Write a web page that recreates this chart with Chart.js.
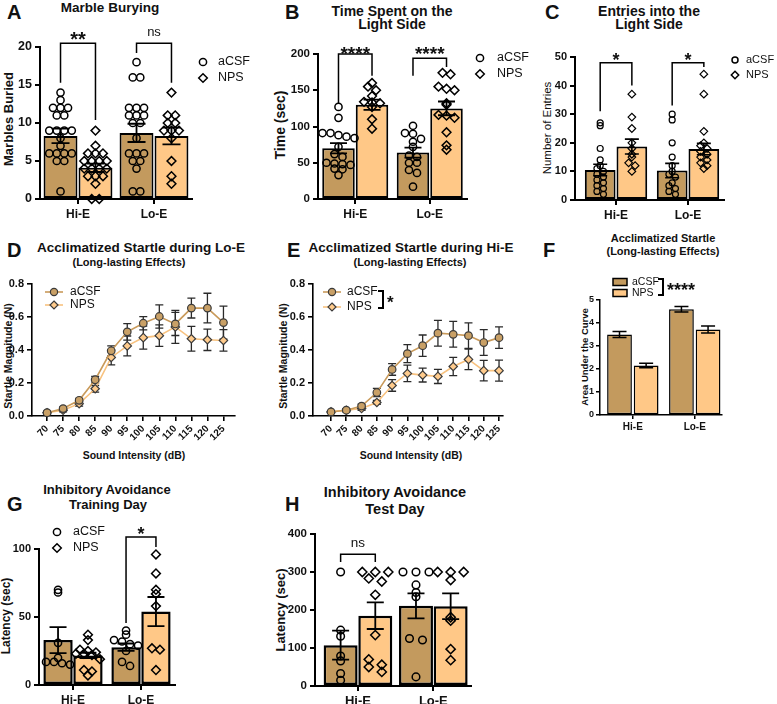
<!DOCTYPE html>
<html>
<head>
<meta charset="utf-8">
<title>NPS behaviour panels</title>
<script src="https://cdn.jsdelivr.net/npm/chart.js@4.4.1/dist/chart.umd.min.js"></script>
<style>
  body { margin: 0; background: #fff; }
  #fig { position: relative; width: 777px; height: 704px; overflow: hidden; background: #fff;
         font-family: "Liberation Sans", Arial, Helvetica, sans-serif; color: #111; }
  #fig canvas { position: absolute; }
  .lbl { position: absolute; white-space: nowrap; line-height: 1; font-weight: bold; transform: translate(-50%, -50%); }
  .let { position: absolute; line-height: 1; font-weight: bold; font-size: 20px; transform: translateY(-50%); }
  .rot { transform: translate(-50%, -50%) rotate(-90deg); }
</style>
</head>
<body>
<div id="fig">
  <!-- panel letters -->
  <div class="let" style="left:7px;top:12px">A</div>
  <div class="let" style="left:285px;top:12px">B</div>
  <div class="let" style="left:545px;top:12px">C</div>
  <div class="let" style="left:7px;top:250px">D</div>
  <div class="let" style="left:287px;top:250px">E</div>
  <div class="let" style="left:543px;top:250px">F</div>
  <div class="let" style="left:7px;top:504px">G</div>
  <div class="let" style="left:285px;top:504px">H</div>

  <!-- titles -->
  <div class="lbl" style="left:110px;top:8px;font-size:13.5px">Marble Burying</div>
  <div class="lbl" style="left:392px;top:10.5px;font-size:14px">Time Spent on the</div>
  <div class="lbl" style="left:392px;top:23.5px;font-size:14px">Light Side</div>
  <div class="lbl" style="left:649px;top:10.5px;font-size:14px">Entries into the</div>
  <div class="lbl" style="left:649px;top:23.5px;font-size:14px">Light Side</div>
  <div class="lbl" style="left:141px;top:248px;font-size:13.5px">Acclimatized Startle during Lo-E</div>
  <div class="lbl" style="left:129px;top:262px;font-size:11px">(Long-lasting Effects)</div>
  <div class="lbl" style="left:411px;top:248px;font-size:13.5px">Acclimatized Startle during Hi-E</div>
  <div class="lbl" style="left:410px;top:262px;font-size:11px">(Long-lasting Effects)</div>
  <div class="lbl" style="left:663px;top:238px;font-size:11px">Acclimatized Startle</div>
  <div class="lbl" style="left:663px;top:251px;font-size:11px">(Long-lasting Effects)</div>
  <div class="lbl" style="left:107px;top:489px;font-size:13px">Inhibitory Avoidance</div>
  <div class="lbl" style="left:108px;top:504px;font-size:13px">Training Day</div>
  <div class="lbl" style="left:395px;top:492px;font-size:14.5px">Inhibitory Avoidance</div>
  <div class="lbl" style="left:395px;top:509px;font-size:14.5px">Test Day</div>

  <!-- axis titles -->
  <div class="lbl rot" style="left:8px;top:119px;font-size:13px">Marbles Buried</div>
  <div class="lbl rot" style="left:280px;top:125px;font-size:14px">Time (sec)</div>
  <div class="lbl rot" style="left:548px;top:128px;font-size:11.5px;font-weight:normal">Number of Entries</div>
  <div class="lbl rot" style="left:8px;top:356px;font-size:10.5px">Startle Magnitude (N)</div>
  <div class="lbl rot" style="left:283px;top:356px;font-size:10.5px">Startle Magnitude (N)</div>
  <div class="lbl rot" style="left:585px;top:357px;font-size:9.5px">Area Under the Curve</div>
  <div class="lbl rot" style="left:6px;top:616px;font-size:12px">Latency (sec)</div>
  <div class="lbl rot" style="left:280px;top:610px;font-size:13px">Latency (sec)</div>
  <div class="lbl" style="left:134px;top:455px;font-size:10.5px">Sound Intensity (dB)</div>
  <div class="lbl" style="left:411px;top:455px;font-size:10.5px">Sound Intensity (dB)</div>
</div>

<script>
const FONT = '"Liberation Sans", Arial, Helvetica, sans-serif';
Chart.defaults.font.family = FONT;
Chart.defaults.color = '#111';

const groups = ['Hi-E', 'Lo-E'];
const treatments = ['aCSF', 'NPS'];
const intensities = [70, 75, 80, 85, 90, 95, 100, 105, 110, 115, 120, 125];

// A - marble burying (bar order: Hi-E aCSF, Hi-E NPS, Lo-E aCSF, Lo-E NPS)
const marbleMean = [8.3, 4.1, 8.7, 8.3];
const marbleSem = [0.95, 0.55, 1.2, 1.1];
const marbleHiACSF = [14, 13, 12, 12, 12, 11, 11, 9, 9, 9, 9, 8, 7, 6, 6, 6, 6, 5, 5, 1];
const marbleHiNPS = [9, 7, 6, 6, 6, 5, 5, 5, 5, 4, 4, 4, 4, 3, 3, 3, 2, 0, 0];
const marbleLoACSF = [18, 16, 16, 12, 12, 12, 11, 11, 11, 10, 10, 8, 6, 6, 6, 5, 5, 4, 1, 1];
const marbleLoNPS = [14, 11, 11, 10, 10, 9, 9, 9, 8, 5, 3, 2];

// B - time spent on the light side (sec)
const lightTimeMean = [70, 130, 64, 125];
const lightTimeSem = [7, 7, 7, 9.5];
const lightTimeHiACSF = [127, 112, 91, 91, 88, 86, 84, 72, 62, 58, 50, 49, 48, 47, 42, 41, 33];
const lightTimeHiNPS = [160, 155, 150, 142, 134, 133, 132, 127, 110, 97];
const lightTimeLoACSF = [101, 91, 90, 83, 79, 72, 60, 58, 50, 50, 40, 36, 17];
const lightTimeLoNPS = [174, 172, 155, 152, 150, 132, 130, 116, 115, 112, 92, 74, 68];

// C - entries into the light side
const entriesMean = [10.5, 18.7, 10.3, 17.8];
const entriesSem = [2.0, 2.6, 2.5, 2.0];
const entriesHiACSF = [27, 26, 18, 14, 12, 11, 10, 9, 8, 7, 6, 5, 4, 3, 2];
const entriesHiNPS = [37, 29, 25, 20, 18, 16, 15, 13, 12, 10];
const entriesLoACSF = [30, 28, 20, 15, 12, 10, 9, 8, 6, 5, 4, 3, 2];
const entriesLoNPS = [44, 37, 24, 20, 19, 18, 17, 16, 15, 14, 13, 12, 11];

// D - startle during Lo-E (N)
const startleLoACSF = [0.02, 0.045, 0.095, 0.22, 0.395, 0.51, 0.562, 0.603, 0.558, 0.654, 0.654, 0.566];
const startleLoACSFSem = [0.01, 0.01, 0.012, 0.02, 0.03, 0.05, 0.04, 0.07, 0.07, 0.06, 0.09, 0.1];
const startleLoNPS = [0.02, 0.035, 0.075, 0.165, 0.355, 0.425, 0.475, 0.487, 0.54, 0.468, 0.462, 0.458];
const startleLoNPSSem = [0.008, 0.01, 0.015, 0.02, 0.045, 0.06, 0.07, 0.065, 0.1, 0.075, 0.065, 0.065];

// E - startle during Hi-E (N)
const startleHiACSF = [0.025, 0.035, 0.06, 0.142, 0.282, 0.378, 0.426, 0.502, 0.495, 0.487, 0.445, 0.475];
const startleHiACSFSem = [0.006, 0.01, 0.012, 0.025, 0.035, 0.055, 0.065, 0.078, 0.078, 0.077, 0.078, 0.065];
const startleHiNPS = [0.025, 0.035, 0.045, 0.082, 0.185, 0.258, 0.248, 0.24, 0.3, 0.343, 0.275, 0.275];
const startleHiNPSSem = [0.006, 0.006, 0.01, 0.012, 0.035, 0.05, 0.042, 0.043, 0.055, 0.062, 0.062, 0.064];

// F - area under the curve
const aucMean = [3.5, 2.15, 4.6, 3.72];
const aucSem = [0.13, 0.1, 0.12, 0.15];

// G - inhibitory avoidance, training day (sec)
const trainMean = [33, 21.7, 27.8, 54];
const trainSem = [9.5, 2, 2.7, 10.7];
const trainHiACSF = [70, 68, 31, 20, 17, 17, 16, 15];
const trainHiNPS = [37, 33, 26, 25, 24, 23, 23, 22, 19, 11, 10, 7];
const trainLoACSF = [40, 37, 33, 32, 30, 29, 25, 17, 14];
const trainLoNPS = [96, 82, 70, 67, 58, 27, 26, 11];

// H - inhibitory avoidance, test day (sec)
const testMean = [107.5, 185, 211, 210];
const testSem = [38, 35, 33, 34];
const testHiACSF = [300, 147, 131, 79, 66, 33, 15];
const testHiNPS = [300, 300, 300, 283, 275, 240, 134, 70, 56, 50, 37];
const testLoACSF = [300, 300, 300, 266, 246, 235, 125, 121, 24];
const testLoNPS = [300, 300, 300, 279, 181, 172, 97, 68];

const FILL = ['#C39A5E', '#FFC887'];
const LINE = ['#C99A5A', '#F8C27F'];
const MARK = ['#C9A066', '#FFCB8C'];
const fig = document.getElementById('fig');

// spread points of one bar side by side when their values are close
function spread(values, center, stepUnits, binUnits) {
  const count = {}, seen = {};
  const keys = values.map(v => Math.round(v / binUnits));
  keys.forEach(k => { count[k] = (count[k] || 0) + 1; });
  return values.map((v, i) => {
    const k = keys[i];
    seen[k] = (seen[k] || 0) + 1;
    return { x: center + (seen[k] - 1 - (count[k] - 1) / 2) * stepUnits, y: v };
  });
}

function marker(ctx, diamond, x, y, r, fill, stroke, bw) {
  ctx.beginPath();
  if (!diamond) ctx.arc(x, y, r, 0, Math.PI * 2);
  else { ctx.moveTo(x, y - r); ctx.lineTo(x + r, y); ctx.lineTo(x, y + r); ctx.lineTo(x - r, y); ctx.closePath(); }
  if (fill) { ctx.fillStyle = fill; ctx.fill(); }
  ctx.lineWidth = bw; ctx.strokeStyle = stroke; ctx.stroke();
}

// mean +/- sem whiskers
function drawErrors(chart, behind) {
  const ctx = chart.ctx, y = chart.scales.y;
  chart.data.datasets.forEach((ds, di) => {
    if (!ds.errors || !!ds.errorsBehind !== behind) return;
    const meta = chart.getDatasetMeta(di);
    const half = ds.capWidth / 2;
    ctx.save();
    ctx.strokeStyle = ds.errorColor || '#000';
    ctx.lineWidth = ds.errorWidth || 1.5;
    meta.data.forEach((el, i) => {
      const v = ds.data[i].y;
      const top = y.getPixelForValue(v + ds.errors[i]);
      const bot = y.getPixelForValue(v - ds.errors[i]);
      ctx.beginPath();
      ctx.moveTo(el.x, top); ctx.lineTo(el.x, bot);
      ctx.moveTo(el.x - half, top); ctx.lineTo(el.x + half, top);
      ctx.moveTo(el.x - half, bot); ctx.lineTo(el.x + half, bot);
      ctx.stroke();
    });
    ctx.restore();
  });
}
const errorBars = {
  id: 'errorBars',
  beforeDatasetsDraw(chart) { drawErrors(chart, true); },
  afterDatasetsDraw(chart) { drawErrors(chart, false); }
};

function starText(ctx, text, x, cy, size, bold, align) {
  ctx.font = `${bold ? 'bold ' : ''}${size}px ${FONT}`;
  ctx.textAlign = align || 'center';
  ctx.textBaseline = 'alphabetic';
  ctx.fillText(text, x, cy + (text.includes('*') ? 0.585 : 0.26) * size);
}

function bracketPlugin(list, off) {
  return {
    id: 'brackets',
    afterDatasetsDraw(chart) {
      const { ctx, scales: { x, y } } = chart;
      ctx.save();
      ctx.strokeStyle = '#000'; ctx.fillStyle = '#111'; ctx.lineWidth = 1.5;
      list.forEach(b => {
        const x1 = x.getPixelForValue(b.g + 1 - off), x2 = x.getPixelForValue(b.g + 1 + off);
        const top = y.getPixelForValue(b.top);
        ctx.beginPath();
        ctx.moveTo(x1, y.getPixelForValue(b.yl)); ctx.lineTo(x1, top);
        ctx.lineTo(x2, top); ctx.lineTo(x2, y.getPixelForValue(b.yr));
        ctx.stroke();
        starText(ctx, b.text, (x1 + x2) / 2, top - b.lift, b.size, b.bold);
      });
      ctx.restore();
    }
  };
}

function legendPlugin(box, lg) {
  return {
    id: 'panelLegend',
    afterDraw(chart) {
      const ctx = chart.ctx;
      ctx.save();
      treatments.forEach((name, i) => {
        const x = lg.x - box.x, y = lg.ys[i] - box.y;
        if (lg.kind === 'box') {
          ctx.fillStyle = FILL[i]; ctx.fillRect(x - 7, y - 3.5, 14, 7);
          ctx.strokeStyle = '#000'; ctx.lineWidth = 1.5; ctx.strokeRect(x - 7, y - 3.5, 14, 7);
        } else if (lg.kind === 'line') {
          ctx.strokeStyle = LINE[i]; ctx.lineWidth = 1.6;
          ctx.beginPath(); ctx.moveTo(x - 9, y); ctx.lineTo(x + 9, y); ctx.stroke();
          marker(ctx, i === 1, x, y, i ? 4 : 3.6, MARK[i], '#3b3b3b', 1.2);
        } else {
          marker(ctx, i === 1, x, y, i ? lg.r + 0.7 : lg.r, null, '#000', 1.5);
        }
        ctx.fillStyle = '#111';
        ctx.font = `${lg.font}px ${FONT}`;
        ctx.textAlign = 'left'; ctx.textBaseline = 'middle';
        ctx.fillText(name, lg.tx - box.x, y);
      });
      if (lg.mark) {
        const m = lg.mark;
        ctx.strokeStyle = '#000'; ctx.lineWidth = 2;
        ctx.beginPath();
        ctx.moveTo(m.x - 5 - box.x, m.y1 - box.y); ctx.lineTo(m.x - box.x, m.y1 - box.y);
        ctx.lineTo(m.x - box.x, m.y2 - box.y); ctx.lineTo(m.x - 5 - box.x, m.y2 - box.y);
        ctx.stroke();
        ctx.fillStyle = '#111';
        starText(ctx, m.text, m.tx - box.x, m.ty - box.y, m.size, true, 'left');
      }
      ctx.restore();
    }
  };
}

function axisStyle(w, len) {
  return {
    grid: { display: true, drawOnChartArea: false, drawTicks: true, tickLength: len, color: '#000', lineWidth: w, offset: false },
    border: { display: true, color: '#000', width: w }
  };
}

function makeChart(p, type, datasets, scales) {
  const box = {
    x: p.plot.l - p.yW, y: p.plot.t - p.mt,
    w: p.plot.r - p.plot.l + p.yW + p.mr, h: p.plot.b - p.plot.t + p.mt + p.xH
  };
  const c = document.createElement('canvas');
  c.width = box.w; c.height = box.h;
  c.style.left = box.x + 'px'; c.style.top = box.y + 'px';
  c.style.width = box.w + 'px'; c.style.height = box.h + 'px';
  fig.appendChild(c);
  scales.x.afterFit = s => { s.height = p.xH; };
  scales.y.afterFit = s => { s.width = p.yW; };
  const plugins = [errorBars];
  if (p.brackets) plugins.push(bracketPlugin(p.brackets, p.off));
  if (p.legend) plugins.push(legendPlugin(box, p.legend));
  new Chart(c, {
    type,
    data: { datasets },
    options: {
      responsive: false, animation: false, devicePixelRatio: 1,
      layout: { padding: { left: 0, top: p.mt, right: p.mr, bottom: 0 }, autoPadding: false },
      plugins: { legend: { display: false }, tooltip: { enabled: false } },
      scales
    },
    plugins
  });
}

function barPanel(p) {
  const pxX = (p.plot.r - p.plot.l) / (p.xMax - p.xMin);
  const pxY = (p.plot.b - p.plot.t) / (p.yMax - p.yMin);
  const xs = [0, 1, 2, 3].map(i => 1 + Math.floor(i / 2) + (i % 2 ? p.off : -p.off));
  const datasets = [{
    type: 'bar', order: 2, clip: false,
    data: xs.map((x, i) => ({ x, y: p.mean[i] })),
    backgroundColor: xs.map((x, i) => FILL[i % 2]),
    borderColor: '#000', borderWidth: p.barBorder, borderSkipped: false,
    categoryPercentage: 1, barPercentage: p.barPct,
    errors: p.sem, capWidth: p.cap, errorWidth: p.errW
  }];
  (p.points || []).forEach((vals, i) => datasets.push({
    type: 'scatter', order: 1, clip: false,
    data: spread(vals, xs[i], p.stepPx / pxX, p.binPx / pxY),
    pointStyle: i % 2 ? 'rectRot' : 'circle',
    pointRadius: i % 2 ? p.r + 0.8 : p.r,
    pointBackgroundColor: 'rgba(0,0,0,0)', pointBorderColor: '#000', pointBorderWidth: p.ptW
  }));
  const ax = axisStyle(p.axisW, p.tickLen || 5);
  makeChart(p, 'bar', datasets, {
    x: {
      type: 'linear', min: p.xMin, max: p.xMax, offset: false, bounds: 'data',
      afterBuildTicks: s => { s.ticks = groups.map((g, i) => ({ value: i + 1 })); },
      ticks: { callback: v => groups[v - 1], font: { size: p.xFont, weight: 'bold' }, color: '#111',
               padding: p.tickPad || 3, maxRotation: 0, autoSkip: false },
      ...ax
    },
    y: {
      type: 'linear', min: p.yMin, max: p.yMax,
      ticks: { stepSize: p.yStep, font: { size: p.yFont, weight: 'bold' }, color: '#111', padding: p.tickPad || 3 },
      ...ax
    }
  });
}

function linePanel(p) {
  const ds = (vals, sems, i) => ({
    type: 'line', order: i + 1, clip: false,
    data: intensities.map((x, k) => ({ x, y: vals[k] })),
    borderColor: LINE[i], borderWidth: 1.6, tension: 0,
    pointStyle: i ? 'rectRot' : 'circle', pointRadius: i ? 4.2 : 3.8,
    pointBackgroundColor: MARK[i], pointBorderColor: '#3b3b3b', pointBorderWidth: 1.2,
    errors: sems, capWidth: 8, errorWidth: 1.3, errorColor: '#2a2a2a', errorsBehind: true
  });
  const ax = axisStyle(1.6, 5);
  makeChart(p, 'line', [ds(p.acsf, p.acsfSem, 0), ds(p.nps, p.npsSem, 1)], {
    x: {
      type: 'linear', min: p.xMin, max: p.xMax, bounds: 'data',
      afterBuildTicks: s => { s.ticks = intensities.map(v => ({ value: v })); },
      ticks: { font: { size: 10, weight: 'bold' }, color: '#111', minRotation: 45, maxRotation: 45,
               autoSkip: false, padding: 2 },
      ...ax
    },
    y: {
      type: 'linear', min: 0, max: 0.8,
      ticks: { stepSize: 0.2, callback: v => v.toFixed(1), font: { size: 11, weight: 'bold' }, color: '#111', padding: 3 },
      ...ax
    }
  });
}

// A
barPanel({
  plot: { l: 40, t: 47, r: 192, b: 199 }, yW: 40, xH: 22, mt: 22, mr: 70,
  xMin: 0.5, xMax: 2.5, yMin: 0, yMax: 20, yStep: 5,
  off: 0.23, barPct: 0.97, barBorder: 2, axisW: 2, cap: 18, errW: 1.8,
  mean: marbleMean, sem: marbleSem,
  points: [marbleHiACSF, marbleHiNPS, marbleLoACSF, marbleLoNPS],
  r: 3.6, ptW: 1.5, stepPx: 7.5, binPx: 7, yFont: 12.5, xFont: 12,
  brackets: [
    { g: 0, top: 20.5, yl: 15.3, yr: 10.4, text: '**', size: 20, bold: true, lift: 8.5 },
    { g: 1, top: 20.5, yl: 19.2, yr: 15.3, text: 'ns', size: 13, bold: false, lift: 10.5 }
  ],
  legend: { x: 203, tx: 218, ys: [62, 78], r: 3.6, font: 12.5 }
});

// B
barPanel({
  plot: { l: 318, t: 54, r: 467, b: 199 }, yW: 45, xH: 22, mt: 14, mr: 70,
  xMin: 0.5, xMax: 2.5, yMin: 0, yMax: 200, yStep: 50,
  off: 0.225, barPct: 0.97, barBorder: 2, axisW: 2, cap: 17, errW: 1.8,
  mean: lightTimeMean, sem: lightTimeSem,
  points: [lightTimeHiACSF, lightTimeHiNPS, lightTimeLoACSF, lightTimeLoNPS],
  r: 3.6, ptW: 1.5, stepPx: 8, binPx: 7, yFont: 11.5, xFont: 12,
  brackets: [
    { g: 0, top: 200, yl: 131, yr: 170, text: '****', size: 19, bold: true, lift: 5.5 },
    { g: 1, top: 194, yl: 170, yr: 182, text: '****', size: 19, bold: true, lift: 9.5 }
  ],
  legend: { x: 480, tx: 497, ys: [58, 74], r: 3.6, font: 12.5 }
});

// C
barPanel({
  plot: { l: 575, t: 57, r: 724, b: 200 }, yW: 40, xH: 22, mt: 17, mr: 53,
  xMin: 0.43, xMax: 2.5, yMin: 0, yMax: 50, yStep: 10,
  off: 0.22, barPct: 0.97, barBorder: 2, axisW: 2, cap: 14, errW: 1.6,
  mean: entriesMean, sem: entriesSem,
  points: [entriesHiACSF, entriesHiNPS, entriesLoACSF, entriesLoNPS],
  r: 3, ptW: 1.2, stepPx: 6.5, binPx: 6, yFont: 11, xFont: 12,
  brackets: [
    { g: 0, top: 48, yl: 31, yr: 40, text: '*', size: 18, bold: true, lift: 7 },
    { g: 1, top: 48, yl: 33, yr: 46.5, text: '*', size: 18, bold: true, lift: 7 }
  ],
  legend: { x: 735, tx: 746, ys: [60, 75], r: 3, font: 11 }
});

// D
linePanel({
  plot: { l: 32, t: 284, r: 235, b: 416 }, yW: 32, xH: 30, mt: 10, mr: 10,
  xMin: 65.3, xMax: 128.6,
  acsf: startleLoACSF, acsfSem: startleLoACSFSem, nps: startleLoNPS, npsSem: startleLoNPSSem,
  legend: { kind: 'line', x: 54, tx: 70, ys: [292, 305], font: 12 }
});

// E
linePanel({
  plot: { l: 313, t: 284, r: 503, b: 416 }, yW: 32, xH: 30, mt: 10, mr: 10,
  xMin: 64.1, xMax: 126.3,
  acsf: startleHiACSF, acsfSem: startleHiACSFSem, nps: startleHiNPS, npsSem: startleHiNPSSem,
  legend: { kind: 'line', x: 332, tx: 347, ys: [292, 307], font: 12,
            mark: { x: 383, y1: 291, y2: 308, text: '*', tx: 387, ty: 298, size: 17 } }
});

// F
barPanel({
  plot: { l: 600, t: 300, r: 722, b: 415 }, yW: 22, xH: 20, mt: 28, mr: 20,
  xMin: 0.47, xMax: 2.44, yMin: 0, yMax: 5, yStep: 1,
  off: 0.215, barPct: 0.93, barBorder: 1.5, axisW: 1.5, cap: 14, errW: 1.5,
  mean: aucMean, sem: aucSem, points: null, tickLen: 4, tickPad: 2,
  yFont: 9, xFont: 10,
  legend: { kind: 'box', x: 620, tx: 632, ys: [282, 293], font: 10.5,
            mark: { x: 663, y1: 279, y2: 295, text: '****', tx: 667, ty: 285, size: 18 } }
});

// G
barPanel({
  plot: { l: 39, t: 549, r: 175, b: 685 }, yW: 39, xH: 22, mt: 30, mr: 10,
  xMin: 0.5, xMax: 2.5, yMin: 0, yMax: 100, yStep: 50,
  off: 0.22, barPct: 0.98, barBorder: 2.5, axisW: 2, cap: 17, errW: 1.8,
  mean: trainMean, sem: trainSem,
  points: [trainHiACSF, trainHiNPS, trainLoACSF, trainLoNPS],
  r: 3.6, ptW: 1.5, stepPx: 8, binPx: 7, yFont: 11, xFont: 12,
  brackets: [
    { g: 1, top: 108.8, yl: 45.6, yr: 101.5, text: '*', size: 18, bold: true, lift: 8 }
  ],
  legend: { x: 57, tx: 73, ys: [532, 548], r: 3.6, font: 12.5 }
});

// H
barPanel({
  plot: { l: 315, t: 534, r: 471, b: 686 }, yW: 40, xH: 24, mt: 15, mr: 10,
  xMin: 0.43, xMax: 2.5, yMin: 0, yMax: 400, yStep: 100,
  off: 0.23, barPct: 0.98, barBorder: 2.5, axisW: 2, cap: 17, errW: 1.8,
  mean: testMean, sem: testSem,
  points: [testHiACSF, testHiNPS, testLoACSF, testLoNPS],
  r: 3.8, ptW: 1.5, stepPx: 13, binPx: 8, yFont: 11.5, xFont: 13,
  brackets: [
    { g: 0, top: 347, yl: 326, yr: 326, text: 'ns', size: 13.5, bold: false, lift: 11 }
  ]
});
</script>
</body>
</html>
